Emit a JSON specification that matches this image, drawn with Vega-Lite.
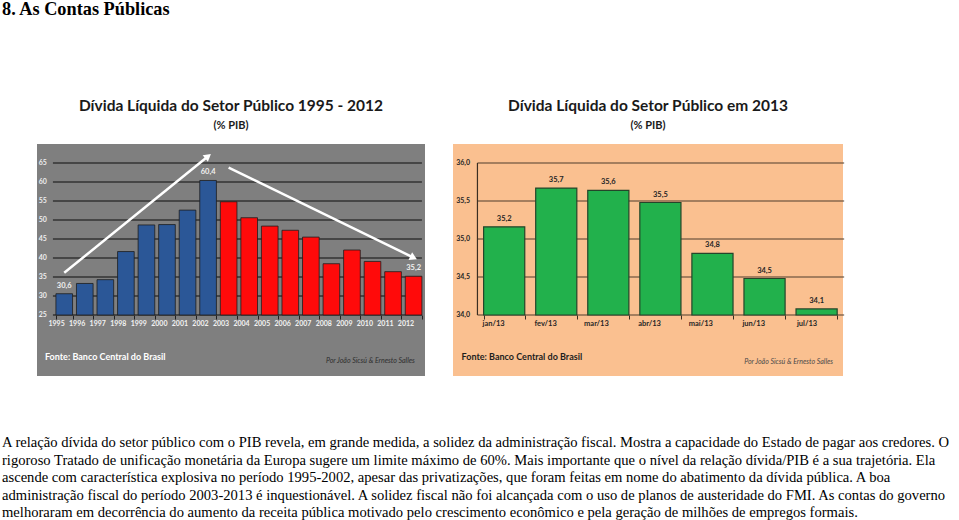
{
  "$schema": "https://vega.github.io/schema/vega-lite/v6.json",
  "background": "white",
  "padding": {"left": 2, "top": 0, "right": 0, "bottom": 0},
  "title": {
    "text": "8. As Contas Públicas",
    "anchor": "start",
    "frame": "group",
    "dx": -35,
    "font": "Liberation Serif",
    "fontSize": 18.3,
    "fontWeight": "bold",
    "color": "#000000",
    "offset": 79
  },
  "config": {
    "locale": {"number": {"decimal": ",", "thousands": ".", "grouping": [3], "currency": ["R$", ""]}},
    "font": "Lato",
    "view": {"stroke": null},
    "axis": {"labelOverlap": false}
  },
  "datasets": {
    "historico": [
      {"ano": "1995", "divida": 30.6},
      {"ano": "1996", "divida": 33.3},
      {"ano": "1997", "divida": 34.3},
      {"ano": "1998", "divida": 41.7},
      {"ano": "1999", "divida": 48.7},
      {"ano": "2000", "divida": 48.8},
      {"ano": "2001", "divida": 52.6},
      {"ano": "2002", "divida": 60.4},
      {"ano": "2003", "divida": 54.8},
      {"ano": "2004", "divida": 50.6},
      {"ano": "2005", "divida": 48.4},
      {"ano": "2006", "divida": 47.3},
      {"ano": "2007", "divida": 45.5},
      {"ano": "2008", "divida": 38.5},
      {"ano": "2009", "divida": 42.1},
      {"ano": "2010", "divida": 39.1},
      {"ano": "2011", "divida": 36.4},
      {"ano": "2012", "divida": 35.2}
    ],
    "escala": [
      {"g": 25}, {"g": 30}, {"g": 35}, {"g": 40}, {"g": 45}, {"g": 50}, {"g": 55}, {"g": 60}, {"g": 65}
    ],
    "setas": [
      {"seta": 1, "de": "1995", "para": "2002", "inicio": 36.1, "fim": 66.8},
      {"seta": 2, "de": "2003", "para": "2012", "inicio": 63.8, "fim": 40.1}
    ],
    "mensal": [
      {"mes": "jan/13", "divida": 35.16},
      {"mes": "fev/13", "divida": 35.67},
      {"mes": "mar/13", "divida": 35.64},
      {"mes": "abr/13", "divida": 35.48},
      {"mes": "mai/13", "divida": 34.81},
      {"mes": "jun/13", "divida": 34.48},
      {"mes": "jul/13", "divida": 34.08}
    ]
  },
  "vconcat": [
    {
      "title": {
        "text": [
          "A relação dívida do setor público com o PIB revela, em grande medida, a solidez da administração fiscal. Mostra a capacidade do Estado de pagar aos credores. O",
          "rigoroso Tratado de unificação monetária da Europa sugere um limite máximo de 60%. Mais importante que o nível da relação dívida/PIB é a sua trajetória. Ela",
          "ascende com característica explosiva no período 1995-2002, apesar das privatizações, que foram feitas em nome do abatimento da dívida pública. A boa",
          "administração fiscal do período 2003-2013 é inquestionável. A solidez fiscal não foi alcançada com o uso de planos de austeridade do FMI. As contas do governo",
          "melhoraram em decorrência do aumento da receita pública motivado pelo crescimento econômico e pela geração de milhões de empregos formais."
        ],
        "orient": "bottom",
        "anchor": "start",
        "frame": "group",
        "dx": -35,
        "offset": 59,
        "font": "Liberation Serif",
        "fontSize": 14.6,
        "fontWeight": "normal",
        "lineHeight": 17.5,
        "color": "#000000"
      },
      "hconcat": [
        {
          "width": 388,
          "height": 232,
          "view": {"fill": "#7f7f7f", "stroke": null},
          "title": {
            "text": "Dívida Líquida do Setor Público 1995 - 2012",
            "subtitle": "(% PIB)",
            "anchor": "middle",
            "offset": 13,
            "font": "Lato",
            "fontSize": 15.5,
            "fontWeight": "bold",
            "color": "#1a1a1a",
            "subtitleFont": "Lato",
            "subtitleFontSize": 11,
            "subtitleFontWeight": "bold",
            "subtitleColor": "#1a1a1a",
            "subtitlePadding": 6
          },
          "layer": [
            {
              "data": {"name": "escala"},
              "mark": {"type": "rule", "color": "#333333", "strokeWidth": 1.3},
              "encoding": {
                "x": {"datum": "1995", "type": "ordinal", "bandPosition": -0.18},
                "x2": {"datum": "2012", "bandPosition": 1},
                "y": {
                  "field": "g",
                  "type": "quantitative",
                  "scale": {"domain": [8.95, 70], "nice": false, "zero": false},
                  "axis": {"title": null, "labels": false, "grid": false, "domain": false, "ticks": false}
                }
              }
            },
            {
              "data": {"name": "escala"},
              "mark": {"type": "text", "align": "right", "baseline": "middle", "dx": -6, "color": "#eeeeee", "fontSize": 7, "fontWeight": "bold", "font": "Lato"},
              "encoding": {
                "x": {"datum": "1995", "type": "ordinal", "bandPosition": -0.18},
                "y": {"field": "g", "type": "quantitative"},
                "text": {"field": "g", "type": "quantitative", "format": "d"}
              }
            },
            {
              "data": {"name": "historico"},
              "mark": {"type": "bar", "stroke": "#1e1e1e", "strokeWidth": 0.8},
              "encoding": {
                "x": {
                  "field": "ano",
                  "type": "ordinal",
                  "scale": {"paddingInner": 0.19, "paddingOuter": 0.535, "align": 0.86},
                  "axis": {
                    "orient": "bottom",
                    "offset": -61,
                    "title": null,
                    "domain": false,
                    "ticks": true,
                    "tickBand": "extent",
                    "tickColor": "#222222",
                    "tickSize": 4,
                    "labelAngle": 0,
                    "labelPadding": 4,
                    "labelColor": "#f2f2f2",
                    "labelFontSize": 7,
                    "labelFontWeight": "bold",
                    "labelFont": "Lato",
                    "labelOverlap": false
                  }
                },
                "y": {"field": "divida", "type": "quantitative"},
                "y2": {"datum": 25},
                "color": {"condition": {"test": "datum.ano <= '2002'", "value": "#2B5797"}, "value": "#FF0A0A"}
              }
            },
            {
              "data": {"name": "historico"},
              "transform": [{"filter": "indexof(['1995','2002','2012'], datum.ano) >= 0"}],
              "mark": {"type": "text", "dy": -8, "baseline": "middle", "color": "#f0f0f0", "fontSize": 7.5, "fontWeight": "bold", "font": "Lato"},
              "encoding": {
                "x": {"field": "ano", "type": "ordinal"},
                "y": {"field": "divida", "type": "quantitative"},
                "text": {"field": "divida", "type": "quantitative", "format": ".1f"}
              }
            },
            {
              "data": {"name": "setas"},
              "mark": {"type": "rule", "color": "#ffffff", "strokeWidth": 2.5},
              "encoding": {
                "x": {"field": "de", "type": "ordinal"},
                "x2": {"field": "para"},
                "y": {"field": "inicio", "type": "quantitative"},
                "y2": {"field": "fim"}
              }
            },
            {
              "data": {"name": "setas"},
              "mark": {"type": "point", "shape": "triangle-up", "filled": true, "color": "#ffffff", "opacity": 1, "size": 70},
              "encoding": {
                "x": {"field": "para", "type": "ordinal"},
                "y": {"field": "fim", "type": "quantitative"},
                "angle": {"condition": {"test": "datum.seta == 1", "value": 51}, "value": 115}
              }
            },
            {
              "data": {"values": [{}]},
              "mark": {"type": "text", "text": "Fonte: Banco Central do Brasil", "align": "left", "baseline": "middle", "dx": -11, "color": "#ffffff", "fontSize": 9, "fontWeight": "bold", "font": "Lato"},
              "encoding": {
                "x": {"datum": "1995", "type": "ordinal", "bandPosition": 0},
                "y": {"datum": 13.95, "type": "quantitative"}
              }
            },
            {
              "data": {"values": [{}]},
              "mark": {"type": "text", "text": "Por João Sicsú & Ernesto Salles", "align": "right", "baseline": "middle", "dx": -7, "color": "#2e2e2e", "fontSize": 7, "fontStyle": "italic", "font": "Lato"},
              "encoding": {
                "x": {"datum": "2012", "type": "ordinal", "bandPosition": 1},
                "y": {"datum": 12.9, "type": "quantitative"}
              }
            }
          ]
        },
        {
          "width": 390,
          "height": 232,
          "view": {"fill": "#FAC090", "stroke": null},
          "title": {
            "text": "Dívida Líquida do Setor Público em 2013",
            "subtitle": "(% PIB)",
            "anchor": "middle",
            "offset": 13,
            "font": "Lato",
            "fontSize": 15.5,
            "fontWeight": "bold",
            "color": "#1a1a1a",
            "subtitleFont": "Lato",
            "subtitleFontSize": 11,
            "subtitleFontWeight": "bold",
            "subtitleColor": "#1a1a1a",
            "subtitlePadding": 6
          },
          "layer": [
            {
              "data": {"values": [{"g": 34}, {"g": 34.5}, {"g": 35}, {"g": 35.5}, {"g": 36}]},
              "mark": {"type": "rule", "color": "#4f3d2c", "strokeWidth": 1.2},
              "encoding": {
                "x": {"datum": "jan/13", "type": "nominal", "bandPosition": -0.15},
                "x2": {"datum": "jul/13", "bandPosition": 1.17},
                "y": {
                  "field": "g",
                  "type": "quantitative",
                  "scale": {"domain": [33.197, 36.25], "nice": false, "zero": false},
                  "axis": {
                    "orient": "left",
                    "offset": -23.5,
                    "title": null,
                    "values": [34, 34.5, 35, 35.5, 36],
                    "format": ".1f",
                    "grid": false,
                    "domain": false,
                    "ticks": false,
                    "labelPadding": 7,
                    "labelColor": "#262626",
                    "labelFontSize": 7,
                    "labelFontWeight": "bold",
                    "labelFont": "Lato",
                    "labelOverlap": false,
                    "labelFlush": false
                  }
                }
              }
            },
            {
              "data": {"values": [{}]},
              "mark": {"type": "rule", "color": "#3a2e22", "strokeWidth": 1.2},
              "encoding": {
                "x": {"datum": "jan/13", "type": "nominal", "bandPosition": -0.15},
                "y": {"datum": 34, "type": "quantitative"},
                "y2": {"datum": 36}
              }
            },
            {
              "data": {"name": "mensal"},
              "mark": {"type": "bar", "color": "#22B14C", "stroke": "#24452a", "strokeWidth": 1.2},
              "encoding": {
                "x": {
                  "field": "mes",
                  "type": "nominal",
                  "scale": {"domain": ["jan/13", "fev/13", "mar/13", "abr/13", "mai/13", "jun/13", "jul/13"], "paddingInner": 0.21, "paddingOuter": 0.35, "align": 0.84},
                  "axis": {
                    "orient": "bottom",
                    "offset": -61,
                    "title": null,
                    "domain": false,
                    "ticks": true,
                    "tickBand": "extent",
                    "tickColor": "#3a2e22",
                    "tickSize": 4,
                    "labelAngle": 0,
                    "labelPadding": 4,
                    "labelColor": "#262626",
                    "labelFontSize": 7.5,
                    "labelFontWeight": "bold",
                    "labelFont": "Lato"
                  }
                },
                "y": {"field": "divida", "type": "quantitative"},
                "y2": {"datum": 34}
              }
            },
            {
              "data": {"name": "mensal"},
              "mark": {"type": "text", "dy": -8, "baseline": "middle", "color": "#262626", "fontSize": 7.5, "fontWeight": "bold", "font": "Lato"},
              "encoding": {
                "x": {"field": "mes", "type": "nominal"},
                "y": {"field": "divida", "type": "quantitative"},
                "text": {"field": "divida", "type": "quantitative", "format": ".1f"}
              }
            },
            {
              "data": {"values": [{}]},
              "mark": {"type": "text", "text": "Fonte: Banco Central do Brasil", "align": "left", "baseline": "middle", "dx": -22, "color": "#1e1e1e", "fontSize": 9, "fontWeight": "bold", "font": "Lato"},
              "encoding": {
                "x": {"datum": "jan/13", "type": "nominal", "bandPosition": 0},
                "y": {"datum": 33.447, "type": "quantitative"}
              }
            },
            {
              "data": {"values": [{}]},
              "mark": {"type": "text", "text": "Por João Sicsú & Ernesto Salles", "align": "right", "baseline": "middle", "dx": -4, "color": "#4a4a4a", "fontSize": 7, "fontStyle": "italic", "font": "Lato"},
              "encoding": {
                "x": {"datum": "jul/13", "type": "nominal", "bandPosition": 1},
                "y": {"datum": 33.38, "type": "quantitative"}
              }
            }
          ]
        }
      ],
      "spacing": 28,
      "bounds": "flush"
    }
  ]
}
